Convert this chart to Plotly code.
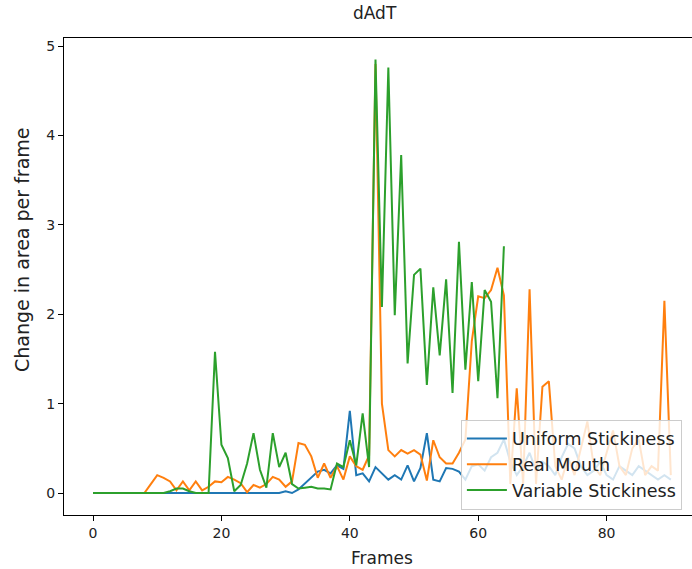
import plotly.graph_objects as go

frames = list(range(91))

uniform = [0.0]*30 + [
    0.02, 0.0, 0.04, 0.11, 0.18, 0.24, 0.26, 0.22, 0.31, 0.27,   # 30-39
    0.92, 0.20, 0.22, 0.13, 0.29, 0.22, 0.15, 0.20, 0.15, 0.31,  # 40-49
    0.13, 0.28, 0.67, 0.15, 0.13, 0.28, 0.27, 0.24, 0.15, 0.30,  # 50-59
    0.32, 0.25, 0.40, 0.45, 0.60, 0.35, 0.20, 0.30, 0.45, 0.25,  # 60-69
    0.35, 0.30, 0.20, 0.40, 0.55, 0.50, 0.30, 0.20, 0.25, 0.35,  # 70-79
    0.20, 0.15, 0.30, 0.25, 0.20, 0.30, 0.25, 0.20, 0.15, 0.20,  # 80-89
    0.15]

real_mouth = [0.0]*9 + [
    0.10,                                                        # 9
    0.20, 0.17, 0.13, 0.03, 0.13, 0.03, 0.13, 0.03, 0.07, 0.13,  # 10-19
    0.12, 0.18, 0.15, 0.11, 0.01, 0.09, 0.06, 0.10, 0.18, 0.15,  # 20-29
    0.07, 0.13, 0.56, 0.54, 0.41, 0.17, 0.33, 0.17, 0.30, 0.15,  # 30-39
    0.41, 0.30, 0.26, 0.42, 4.80, 1.00, 0.48, 0.41, 0.48, 0.44,  # 40-49
    0.48, 0.43, 0.14, 0.59, 0.40, 0.33, 0.33, 0.45, 0.60, 1.70,  # 50-59
    2.20, 2.18, 2.27, 2.52, 2.21, 0.10, 1.17, 0.10, 2.28, 0.10,  # 60-69
    1.19, 1.25, 0.30, 0.15, 0.40, 0.20, 0.50, 0.80, 0.30, 0.20,  # 70-79
    0.45, 0.70, 0.30, 0.20, 0.50, 0.60, 0.20, 0.30, 0.25, 2.15,  # 80-89
    0.20]

variable = [0.0]*12 + [
    0.02, 0.05, 0.05, 0.02, 0.0, 0.0, 0.0, 1.58,                 # 12-19
    0.54, 0.39, 0.02, 0.09, 0.33, 0.67, 0.26, 0.06, 0.67, 0.29,  # 20-29
    0.45, 0.10, 0.05, 0.06, 0.07, 0.05, 0.05, 0.04, 0.33, 0.29,  # 30-39
    0.59, 0.31, 0.89, 0.29, 4.85, 2.08, 4.76, 1.99, 3.78, 1.45,  # 40-49
    2.44, 2.51, 1.21, 2.30, 1.54, 2.39, 1.12, 2.81, 1.38, 2.36,  # 50-59
    1.25, 2.27, 2.14, 1.06, 2.76]                                # 60-64

series = [
    ("Uniform Stickiness", uniform, "#1f77b4"),
    ("Real Mouth", real_mouth, "#ff7f0e"),
    ("Variable Stickiness", variable, "#2ca02c"),
]

fig = go.Figure()
for name, vals, color in series:
    fig.add_trace(go.Scatter(
        x=frames[:len(vals)], y=vals, mode="lines", name=name,
        legendgroup=name,
        line=dict(color=color, width=2),
    ))

font = "DejaVu Sans, Arial, sans-serif"
W, H = 692, 569
L, R, T, B = 64, 0, 38, 54
fig.update_layout(
    width=W, height=H,
    margin=dict(l=L, r=R, t=T, b=B),
    paper_bgcolor="white", plot_bgcolor="white",
    font=dict(family=font, size=14, color="#222"),
    showlegend=True,
    legend=dict(x=0.632, xanchor="left", y=0.2, yanchor="top",
                bgcolor="rgba(255,255,255,0.8)", bordercolor="#cccccc", borderwidth=1,
                font=dict(size=17.5, color="#222"), tracegroupgap=0,
                itemwidth=40),
    annotations=[
        dict(text="dAdT", xref="paper", yref="paper",
             x=(375 - L) / (W - L - R), y=1 + (T - 13) / (H - T - B),
             xanchor="center", yanchor="middle", showarrow=False,
             font=dict(size=17, color="#222")),
        dict(text="Frames", xref="paper", yref="paper",
             x=(382 - L) / (W - L - R), y=-(558 - (H - B)) / (H - T - B),
             xanchor="center", yanchor="middle", showarrow=False,
             font=dict(size=17, color="#222")),
        dict(text="Change in area per frame", xref="paper", yref="paper",
             x=-(L - 22) / (W - L - R), y=(H - B - 250) / (H - T - B),
             xanchor="center", yanchor="middle", showarrow=False, textangle=-90,
             font=dict(size=19, color="#222")),
    ],
)
fig.update_xaxes(
    range=[-4.52, 93.3], tickvals=[0, 20, 40, 60, 80],
    showline=True, linecolor="black", linewidth=1, mirror=True,
    ticks="outside", ticklen=5, tickcolor="black",
    showgrid=False, zeroline=False,
)
fig.update_yaxes(
    range=[-0.246, 5.09], tickvals=[0, 1, 2, 3, 4, 5],
    showline=True, linecolor="black", linewidth=1, mirror=False,
    ticks="outside", ticklen=5, tickcolor="black",
    showgrid=False, zeroline=False,
)

fig.write_html("out.html")
